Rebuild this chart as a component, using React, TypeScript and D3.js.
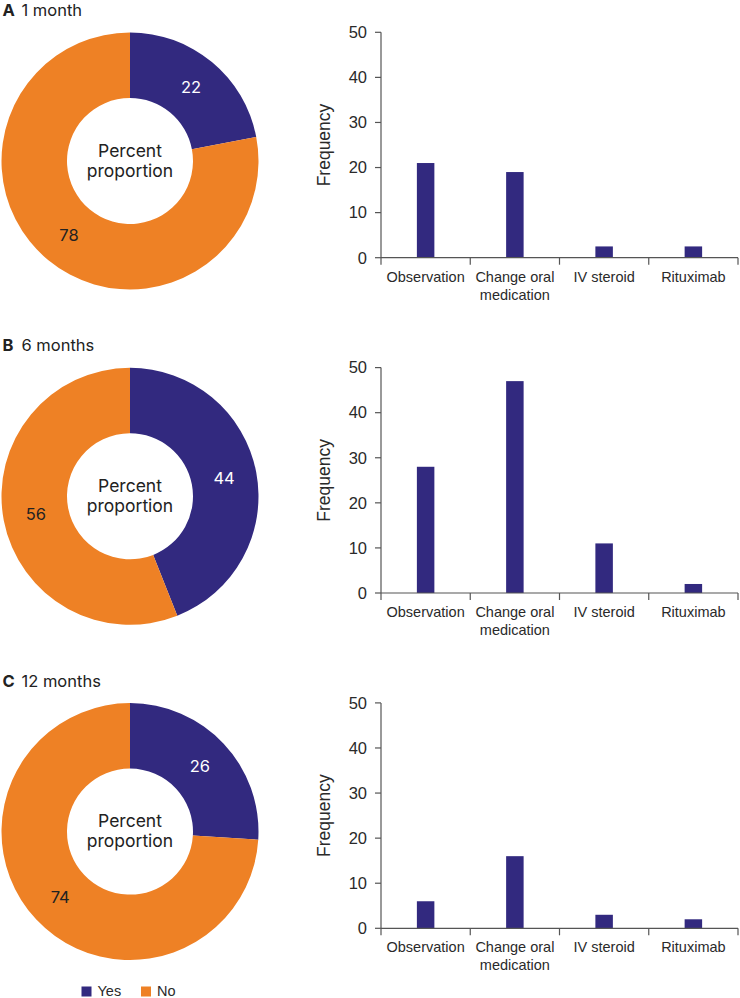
import React from 'react';
import * as d3 from 'd3';

const panelLetters = ['A', 'B', 'C'];
const panelTitles = ['1 month', '6 months', '12 months'];
const yesPercent = [22, 44, 26];
const noPercent = [78, 56, 74];
const categories = ['Observation', 'Change oral medication', 'IV steroid', 'Rituximab'];
const categoryLines = [['Observation'], ['Change oral', 'medication'], ['IV steroid'], ['Rituximab']];
const freq1Month = [21, 19, 2.5, 2.5];
const freq6Months = [28, 47, 11, 2];
const freq12Months = [6, 16, 3, 2];
const yTicks = [0, 10, 20, 30, 40, 50];
const legendLabels = ['Yes', 'No'];

const freqSeries = [freq1Month, freq6Months, freq12Months];

const PURPLE = '#32297f';
const ORANGE = '#ee8125';
const AXIS = '#555';
const TXT = '#2a2a2a';
const SANS = '"Liberation Sans", Arial, sans-serif';
const INTER = 'Inter, "Open Sans", sans-serif';

const PANEL_STEP = 335.3;

function Donut({ i }: { i: number }) {
  const off = i * PANEL_STEP;
  const cx = 130;
  const cy = 161 + off;
  const pie = d3.pie<number>().sort(null).value((d) => d);
  const arcs = pie([yesPercent[i], noPercent[i]]);
  const arc = d3.arc<d3.PieArcDatum<number>>().innerRadius(63).outerRadius(128.5);
  const colors = [PURPLE, ORANGE];
  const labelColors = ['#ffffff', '#222'];
  return (
    <g>
      <text x={2.5} y={16 + off} fontFamily={INTER} fontSize={16.5} fill="#222">
        <tspan fontWeight={700}>{panelLetters[i]}</tspan>
      </text>
      <text x={21.5} y={16 + off} fontFamily={INTER} fontSize={16.5} fill="#222">
        {panelTitles[i]}
      </text>
      <g transform={`translate(${cx},${cy})`}>
        {arcs.map((a, k) => (
          <path key={k} d={arc(a) || ''} fill={colors[k]} />
        ))}
        {arcs.map((a, k) => {
          const [lx, ly] = arc.centroid(a);
          return (
            <text
              key={'l' + k}
              x={lx}
              y={ly + 6}
              textAnchor="middle"
              fontFamily={INTER}
              fontSize={16.5}
              fill={labelColors[k]}
            >
              {a.data}
            </text>
          );
        })}
        <text x={0} y={-4.5} textAnchor="middle" fontFamily={INTER} fontSize={17.5} fill="#222">
          Percent
        </text>
        <text x={0} y={15.5} textAnchor="middle" fontFamily={INTER} fontSize={17.5} fill="#222">
          proportion
        </text>
      </g>
    </g>
  );
}

function Bars({ i }: { i: number }) {
  const off = i * PANEL_STEP;
  const values = freqSeries[i];
  const x = d3.scaleBand<string>().domain(categories).range([381, 738]).padding(0);
  const y = d3.scaleLinear().domain([0, 50]).range([257.7 + off, 32.3 + off]);
  const barW = x.bandwidth() * 0.196;
  const x0 = x.range()[0];
  const x1 = x.range()[1];
  const boundaries = categories.map((c) => x(c) as number).concat([x1]);
  return (
    <g>
      {values.map((v, k) => {
        const cx = (x(categories[k]) as number) + x.bandwidth() / 2;
        return (
          <rect
            key={k}
            x={cx - barW / 2}
            y={y(v)}
            width={barW}
            height={y(0) - y(v)}
            fill={PURPLE}
          />
        );
      })}
      <line x1={x0} x2={x0} y1={y(0)} y2={y(50)} stroke={AXIS} strokeWidth={1.2} />
      {yTicks.map((t) => (
        <g key={t}>
          <line x1={x0 - 6} x2={x0} y1={y(t)} y2={y(t)} stroke={AXIS} strokeWidth={1.2} />
          <text
            x={367}
            y={y(t) + 5.8}
            textAnchor="end"
            fontFamily={SANS}
            fontSize={16.5}
            fill={TXT}
          >
            {t}
          </text>
        </g>
      ))}
      <line x1={x0} x2={x1} y1={y(0)} y2={y(0)} stroke={AXIS} strokeWidth={1.2} />
      {boundaries.map((b, k) => (
        <line key={k} x1={b} x2={b} y1={y(0)} y2={y(0) + 7} stroke={AXIS} strokeWidth={1.2} />
      ))}
      {categories.map((c, k) => {
        const cx = (x(c) as number) + x.bandwidth() / 2;
        return (
          <text key={c} textAnchor="middle" fontFamily={SANS} fontSize={14.5} fill={TXT}>
            {categoryLines[k].map((ln, j) => (
              <tspan key={j} x={cx} y={y(0) + 24 + j * 18}>
                {ln}
              </tspan>
            ))}
          </text>
        );
      })}
      <text
        transform={`translate(330,${(y(0) + y(50)) / 2}) rotate(-90)`}
        textAnchor="middle"
        fontFamily={SANS}
        fontSize={17.5}
        fill={TXT}
      >
        Frequency
      </text>
    </g>
  );
}

export default function App() {
  const legendColors = [PURPLE, ORANGE];
  const legendX = [81.5, 141];
  return (
    <svg
      width={740}
      height={998}
      viewBox="0 0 740 998"
      style={{ position: 'absolute', left: 0, top: 0, background: '#fff' }}
    >
      <rect x={0} y={0} width={740} height={998} fill="#fff" />
      {[0, 1, 2].map((i) => (
        <g key={i}>
          <Donut i={i} />
          <Bars i={i} />
        </g>
      ))}
      {legendLabels.map((l, k) => (
        <g key={l}>
          <rect x={legendX[k]} y={986.5} width={10} height={10} fill={legendColors[k]} />
          <text x={legendX[k] + 16} y={996} fontFamily={SANS} fontSize={14.5} fill={TXT}>
            {l}
          </text>
        </g>
      ))}
    </svg>
  );
}
